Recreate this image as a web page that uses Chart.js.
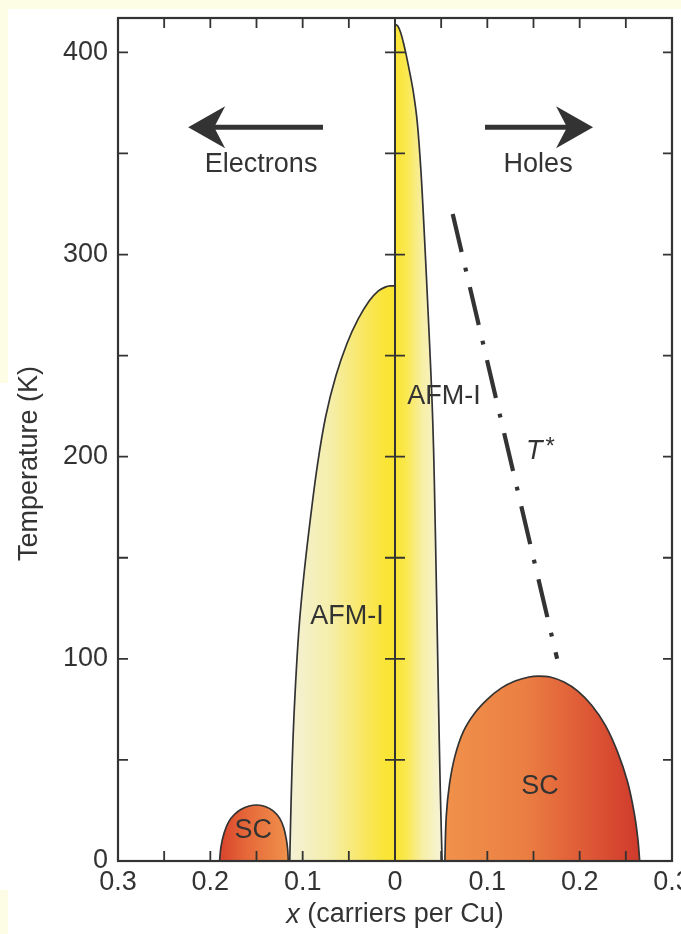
<!DOCTYPE html>
<html>
<head>
<meta charset="utf-8">
<title>Cuprate phase diagram</title>
<script src="https://cdn.jsdelivr.net/npm/chart.js@4/dist/chart.umd.min.js"></script>
<style>
  html, body { margin: 0; padding: 0; background: #fdfce4; }
  #page { position: relative; width: 681px; height: 934px; overflow: hidden; }
  .sheet { position: absolute; background: #ffffff; }
  #main { left: 8px; top: 9px; width: 673px; height: 925px; }
  #strip { left: 0; top: 383px; width: 8px; height: 507px; }
  canvas { position: absolute; left: 0; top: 0; }
</style>
</head>
<body>
<div id="page">
  <div class="sheet" id="main"></div>
  <div class="sheet" id="strip"></div>
  <canvas id="c" width="681" height="934"></canvas>
</div>
<script>
// ---- data (x: carriers per Cu, negative = electron doping; T in kelvin) ----
const afmElectronX = [-0.114, -0.1125, -0.1105, -0.108, -0.104, -0.099, -0.092, -0.084, -0.075, -0.064, -0.052, -0.040, -0.028, -0.018, -0.010, -0.004, 0];
const afmElectronT = [0, 30, 60, 85, 115, 140, 168, 196, 220, 240, 256, 268, 277, 282, 284, 284.5, 284.5];

const afmHoleX = [0, 0.003, 0.006, 0.009, 0.012, 0.016, 0.020, 0.024, 0.028, 0.032, 0.036, 0.039, 0.041, 0.0425, 0.045, 0.047, 0.049, 0.051];
const afmHoleT = [414, 413, 410, 405, 399, 390, 380, 366, 342, 308, 270, 240, 216, 190, 132, 82, 36, 0];

const scElectronX = [-0.19, -0.1885, -0.185, -0.18, -0.174, -0.167, -0.158, -0.149, -0.14, -0.132, -0.125, -0.1205, -0.1178, -0.1162, -0.1156];
const scElectronT = [0, 7, 14, 19.5, 23, 25.5, 27.2, 27.7, 26.8, 24.8, 21.2, 16.5, 11, 5.5, 0];

const scHoleX = [0.054, 0.0555, 0.059, 0.065, 0.074, 0.086, 0.1, 0.115, 0.13, 0.145, 0.155, 0.168, 0.183, 0.198, 0.213, 0.228, 0.241, 0.252, 0.259, 0.263, 0.265];
const scHoleT = [0, 22, 38, 52, 64, 73, 80, 85.5, 89, 91, 91.5, 91, 88.5, 84, 77, 67, 54, 39, 24, 11, 0];

const tStarX = [0.0625, 0.1756];
const tStarT = [320, 100];

// ---- axes ----
const xMajorTicks = [-0.3, -0.2, -0.1, 0, 0.1, 0.2, 0.3];
const xTickLabels = ['0.3', '0.2', '0.1', '0', '0.1', '0.2', '0.3'];
const xMinorTicks = [-0.25, -0.2, -0.15, -0.1, -0.05, 0.05, 0.1, 0.15, 0.2, 0.25];
const yMajorTicks = [0, 100, 200, 300, 400];
const yTickLabels = ['0', '100', '200', '300', '400'];
const yMinorTicks = [50, 100, 150, 200, 250, 300, 350, 400];

const INK = '#333333';
const FONT = '"Liberation Sans", Arial, Helvetica, sans-serif';
Chart.defaults.font.family = FONT;
Chart.defaults.color = INK;

const pts = (xs, ys) => xs.map((x, i) => ({ x, y: ys[i] }));
const labelAt = (majors, labels) => (v) => {
  const i = majors.findIndex(m => Math.abs(m - v) < 1e-6);
  return i >= 0 ? labels[i] : '';
};

// horizontal colour ramp spanning given x values
function ramp(stops) {
  return (context) => {
    const chart = context.chart;
    const { chartArea, scales } = chart;
    if (!chartArea) return 'transparent';
    const a = stops[0][0], b = stops[stops.length - 1][0];
    const g = chart.ctx.createLinearGradient(scales.x.getPixelForValue(a), 0, scales.x.getPixelForValue(b), 0);
    stops.forEach(([v, c]) => g.addColorStop((v - a) / (b - a), c));
    return g;
  };
}

// text and arrows placed in data coordinates
const annotations = {
  arrows: [
    { from: -0.078, to: -0.224, t: 363 },
    { from: 0.0975, to: 0.2145, t: 363 }
  ],
  labels: [
    { text: 'Electrons', x: -0.145, t: 344.5 },
    { text: 'Holes', x: 0.155, t: 344.5 },
    { text: 'AFM-I', x: 0.053, t: 229.5 },
    { text: 'AFM-I', x: -0.052, t: 120.8 },
    { text: 'SC', x: -0.1535, t: 15.3 },
    { text: 'SC', x: 0.157, t: 36.6 }
  ],
  tStar: { x: 0.157, t: 202.5 }
};

const decorations = {
  id: 'decorations',
  afterDatasetsDraw(chart) {
    const { ctx, chartArea: a, scales: { x, y } } = chart;
    const x0 = x.getPixelForValue(0);
    ctx.save();

    // inner tick marks
    ctx.strokeStyle = INK;
    ctx.lineWidth = 1.8;
    ctx.beginPath();
    xMinorTicks.forEach(v => {
      const px = x.getPixelForValue(v);
      ctx.moveTo(px, a.top); ctx.lineTo(px, a.top + 10);
      ctx.moveTo(px, a.bottom); ctx.lineTo(px, a.bottom - 10);
    });
    yMinorTicks.forEach(t => {
      const py = y.getPixelForValue(t);
      ctx.moveTo(a.left, py); ctx.lineTo(a.left + 10, py);
      ctx.moveTo(a.right, py); ctx.lineTo(a.right - 9, py);
      ctx.moveTo(x0 - 10, py); ctx.lineTo(x0 + 10, py);
    });
    ctx.stroke();

    // x = 0 divider
    ctx.lineWidth = 2;
    ctx.beginPath();
    ctx.moveTo(x0, a.top); ctx.lineTo(x0, a.bottom);
    ctx.stroke();

    // frame
    ctx.lineWidth = 2.2;
    ctx.strokeRect(a.left, a.top, a.right - a.left, a.bottom - a.top);

    // arrows
    ctx.fillStyle = INK;
    annotations.arrows.forEach(ar => {
      const xs = x.getPixelForValue(ar.from), xt = x.getPixelForValue(ar.to), py = y.getPixelForValue(ar.t);
      const dir = Math.sign(xt - xs);
      ctx.lineWidth = 5;
      ctx.beginPath();
      ctx.moveTo(xs, py); ctx.lineTo(xt - dir * 20, py);
      ctx.stroke();
      ctx.beginPath();
      ctx.moveTo(xt, py);
      ctx.lineTo(xt - dir * 37, py - 21);
      ctx.lineTo(xt - dir * 26, py);
      ctx.lineTo(xt - dir * 37, py + 21);
      ctx.closePath();
      ctx.fill();
    });

    // region labels
    ctx.font = '27px ' + FONT;
    ctx.textAlign = 'center';
    ctx.textBaseline = 'middle';
    annotations.labels.forEach(l => {
      ctx.fillText(l.text, x.getPixelForValue(l.x), y.getPixelForValue(l.t));
    });

    // T* label
    const ts = annotations.tStar;
    const tx = x.getPixelForValue(ts.x), ty = y.getPixelForValue(ts.t);
    ctx.font = 'italic 27px ' + FONT;
    const wT = ctx.measureText('T').width;
    ctx.font = '24px ' + FONT;
    const wS = ctx.measureText('*').width;
    const left = tx - (wT + wS + 2) / 2;
    ctx.textAlign = 'left';
    ctx.font = 'italic 27px ' + FONT;
    ctx.fillText('T', left, ty);
    ctx.font = '24px ' + FONT;
    ctx.fillText('*', left + wT + 3, ty - 4);

    // axis titles
    ctx.font = 'italic 27px ' + FONT;
    const wx = ctx.measureText('x').width;
    ctx.font = '27px ' + FONT;
    const rest = ' (carriers per Cu)';
    const wr = ctx.measureText(rest).width;
    const cx = (a.left + a.right) / 2;
    const sx = cx - (wx + wr) / 2;
    ctx.textAlign = 'left';
    ctx.font = 'italic 27px ' + FONT;
    ctx.fillText('x', sx, 915);
    ctx.font = '27px ' + FONT;
    ctx.fillText(rest, sx + wx, 915);

    ctx.translate(30, (a.top + a.bottom) / 2 + 24);
    ctx.rotate(-Math.PI / 2);
    ctx.textAlign = 'center';
    ctx.fillText('Temperature (K)', 0, 0);
    ctx.restore();
  }
};

const regionStyle = {
  showLine: true,
  pointRadius: 0,
  borderColor: INK,
  borderWidth: 1.7,
  fill: 'origin',
  tension: 0.35
};

new Chart(document.getElementById('c'), {
  type: 'scatter',
  data: {
    datasets: [
      {
        label: 'T*',
        data: pts(tStarX, tStarT),
        showLine: true,
        pointRadius: 0,
        borderColor: INK,
        borderWidth: 4.2,
        borderCapStyle: 'butt',
        borderDash: [39, 16, 4, 16],
        fill: false
      },
      Object.assign({}, regionStyle, {
        label: 'AFM-I (holes)',
        data: pts(afmHoleX, afmHoleT),
        backgroundColor: ramp([[0, '#fae432'], [0.012, '#fae84e'], [0.03, '#f7efa6'], [0.05, '#f6f3d8']])
      }),
      Object.assign({}, regionStyle, {
        label: 'AFM-I (electrons)',
        data: pts(afmElectronX, afmElectronT),
        backgroundColor: ramp([[-0.114, '#f4f1d6'], [-0.07, '#f5eeaa'], [-0.03, '#f9e65a'], [-0.01, '#fae436'], [0, '#fae432']])
      }),
      Object.assign({}, regionStyle, {
        label: 'SC (electrons)',
        data: pts(scElectronX, scElectronT),
        backgroundColor: ramp([[-0.19, '#d8442b'], [-0.16, '#e6693a'], [-0.116, '#f0914b']])
      }),
      Object.assign({}, regionStyle, {
        label: 'SC (holes)',
        data: pts(scHoleX, scHoleT),
        backgroundColor: ramp([[0.054, '#f0914b'], [0.14, '#eb7f43'], [0.2, '#e05d37'], [0.265, '#cf3a2c']])
      })
    ]
  },
  options: {
    responsive: false,
    devicePixelRatio: 1,
    animation: false,
    layout: { padding: { left: 0, top: 18, right: 9, bottom: 0 } },
    plugins: { legend: { display: false }, tooltip: { enabled: false } },
    scales: {
      x: {
        type: 'linear',
        min: -0.3,
        max: 0.3,
        grid: { display: false, drawTicks: false },
        border: { display: false },
        ticks: {
          stepSize: 0.05,
          autoSkip: false,
          maxRotation: 0,
          minRotation: 0,
          padding: 5,
          color: INK,
          font: { size: 27 },
          callback: labelAt(xMajorTicks, xTickLabels)
        },
        afterFit: (s) => { s.height = 73; s.paddingLeft = 0; s.paddingRight = 0; }
      },
      y: {
        type: 'linear',
        min: 0,
        max: 417,
        grid: { display: false, drawTicks: false },
        border: { display: false },
        ticks: {
          stepSize: 50,
          autoSkip: false,
          padding: 10,
          color: INK,
          font: { size: 27 },
          callback: labelAt(yMajorTicks, yTickLabels)
        },
        afterFit: (s) => { s.width = 118; s.paddingTop = 0; s.paddingBottom = 0; }
      }
    }
  },
  plugins: [decorations]
});
</script>
</body>
</html>
